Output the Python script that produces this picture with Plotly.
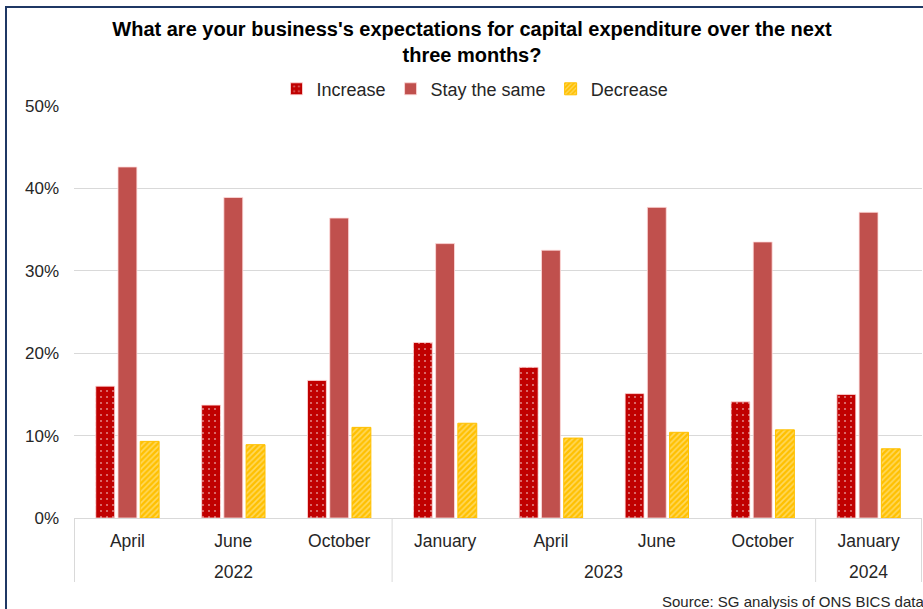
import plotly.graph_objects as go

# Survey waves (year, month)
years = ["2022", "2022", "2022", "2023", "2023", "2023", "2023", "2024"]
months = ["April", "June", "October", "January", "April", "June", "October", "January"]

# Share of businesses by expectation (fraction)
increase = [0.160, 0.137, 0.167, 0.213, 0.183, 0.151, 0.141, 0.150]
stay_same = [0.426, 0.389, 0.364, 0.333, 0.325, 0.377, 0.335, 0.371]
decrease = [0.093, 0.089, 0.110, 0.115, 0.097, 0.104, 0.107, 0.084]

FONT = "Liberation Sans, Arial, sans-serif"
TEXT = "#262626"
GRID = "#D9D9D9"

# one unique category per survey wave; the axis shows only the month
waves = [f"{m} {y}" for m, y in zip(months, years)]

fig = go.Figure()
fig.add_bar(
    x=waves, y=increase, name="Increase",
    marker=dict(
        color="#C00000",
        line=dict(color="rgba(255,220,220,0.8)", width=1),
        pattern=dict(shape=".", fgcolor="#FFFFFF", bgcolor="#C00000",
                     size=6, solidity=0.1),
    ),
)
fig.add_bar(
    x=waves, y=stay_same, name="Stay the same",
    marker=dict(color="#C0504D", line=dict(color="rgba(255,220,220,0.8)", width=1)),
)
fig.add_bar(
    x=waves, y=decrease, name="Decrease",
    marker=dict(
        color="#FFC000",
        line=dict(color="#FFC000", width=1),
        pattern=dict(shape="/", fgcolor="#FFF2C0", bgcolor="#FFC000",
                     size=4, solidity=0.4),
    ),
)

PLOT_H = 412  # plot area height in px

fig.update_layout(
    width=923, height=609,
    margin=dict(l=74, r=1, t=106, b=91),
    paper_bgcolor="white", plot_bgcolor="white",
    font=dict(family=FONT, size=17, color=TEXT),
    barmode="group", bargap=0.37, bargroupgap=0.15,
    title=dict(
        text="<b>What are your business's expectations for capital expenditure over the next<br>three months?</b>",
        x=472 / 923, xanchor="center", xref="container",
        y=1 - 36 / 609, yanchor="middle", yref="container",
        font=dict(family=FONT, size=20, color="#000000"),
    ),
    legend=dict(
        orientation="h", x=0.4729, xanchor="center", y=1.041, yanchor="middle",
        font=dict(family=FONT, size=18, color=TEXT),
        itemwidth=30, traceorder="normal",
    ),
    showlegend=True,
)

fig.update_yaxes(
    range=[0, 0.5], dtick=0.1, tickformat=".0%",
    showgrid=True, gridcolor=GRID, gridwidth=1,
    zeroline=False, showline=False,
    ticks="", ticklabelstandoff=14,
    tickfont=dict(family=FONT, size=17, color=TEXT),
)
fig.update_xaxes(
    type="category", categoryorder="array", categoryarray=waves,
    tickmode="array", tickvals=waves, ticktext=months,
    showline=True, linecolor=GRID, linewidth=1,
    ticks="", ticklabelstandoff=7,
    tickfont=dict(family=FONT, size=17.5, color=TEXT),
)

# Year group labels and the dividers between year groups
bounds = [-0.5]
for i in range(1, len(years)):
    if years[i] != years[i - 1]:
        bounds.append(i - 0.5)
bounds.append(len(years) - 0.5)

for b in bounds:
    fig.add_shape(
        type="line", xref="x", yref="paper", x0=b, x1=b, y0=0, y1=-64 / PLOT_H,
        line=dict(color=GRID, width=1),
    )

for y in dict.fromkeys(years):
    idx = [i for i, v in enumerate(years) if v == y]
    fig.add_annotation(
        text=y, xref="x", yref="paper", x=sum(idx) / len(idx), y=-54 / PLOT_H,
        xanchor="center", yanchor="middle", showarrow=False,
        font=dict(family=FONT, size=17.5, color=TEXT),
    )

# Frame around the chart area
fig.add_shape(
    type="rect", xref="paper", yref="paper",
    x0=-68 / 848, x1=1.2, y0=-0.5, y1=1 + 99 / PLOT_H,
    line=dict(color="#1F3864", width=2), fillcolor="rgba(0,0,0,0)", layer="above",
)

fig.add_annotation(
    text="Source: SG analysis of ONS BICS data",
    xref="paper", yref="paper", x=(660 - 74) / 848, y=-(601 - 518) / PLOT_H,
    xanchor="left", yanchor="middle", showarrow=False,
    font=dict(family=FONT, size=15, color=TEXT),
)

fig.write_html("out.html")
